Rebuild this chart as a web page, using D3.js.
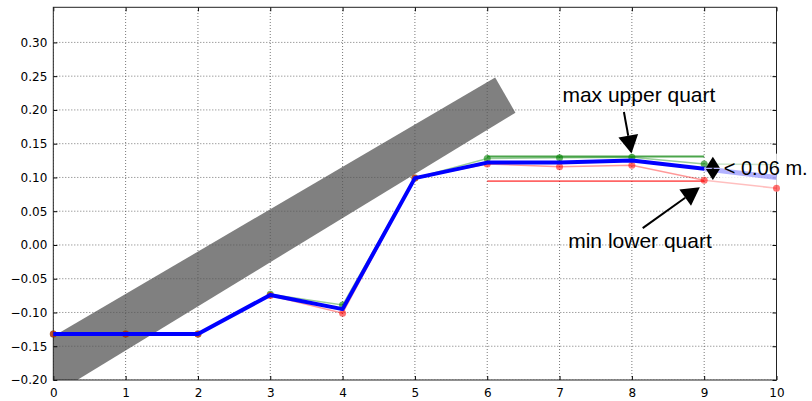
<!DOCTYPE html>
<html>
<head>
<meta charset="utf-8">
<script src="https://cdn.jsdelivr.net/npm/d3@7"></script>
<style>
  body { margin: 0; background: white; }
  text { font-family: "DejaVu Sans", sans-serif; }
</style>
</head>
<body>
<div id="chart"></div>
<script>
// data
var steps = [0, 1, 2, 3, 4, 5, 6, 7, 8, 9, 10];
var upperQuart = [-0.132, -0.132, -0.132, -0.073, -0.089, 0.099, 0.128, 0.129, 0.130, 0.120, 0.119];
var median = [-0.132, -0.132, -0.132, -0.074, -0.095, 0.099, 0.122, 0.122, 0.125, 0.113, 0.100];
var lowerQuart = [-0.132, -0.132, -0.132, -0.075, -0.101, 0.099, 0.120, 0.116, 0.118, 0.096, 0.084];

// max / min level lines over the last window
var maxUpper = { from: 6, to: 9, value: 0.131 };
var minLower = { from: 6, to: 9, value: 0.0945 };

// grey band corners (data units)
var band = [[-1, -0.198], [6.11, 0.248], [6.39, 0.196], [-1, -0.287]];

var xTicks = [0, 1, 2, 3, 4, 5, 6, 7, 8, 9, 10];
var yTicks = [-0.20, -0.15, -0.10, -0.05, 0.00, 0.05, 0.10, 0.15, 0.20, 0.25, 0.30];

// annotations: text pos, arrow tail, arrow tip
var notes = [
    { label: "max upper quart", tx: 7.04, ty: 0.212, ax: 7.89, ay: 0.197, px: 7.995, py: 0.1355 },
    { label: "min lower quart", tx: 7.12, ty: -0.0044, ax: 8.15, ay: 0.025, px: 8.94, py: 0.0855 }
];
var spread = { label: "< 0.06 m.", x: 9.12, y0: 0.0963, y1: 0.1308, tx: 9.27, ty: 0.1037 };

var width = 812
height = 401
var margin = { top: 7.3, right: 35.5, bottom: 21, left: 53.3 };

var svg = d3.select("#chart")
    .append("svg")
    .attr("width", width)
    .attr("height", height);

svg.append("rect").attr("width", width).attr("height", height).attr("fill", "white");

var x = d3.scaleLinear().domain([0, 10]).range([margin.left, width - margin.right]);
var y = d3.scaleLinear().domain([-0.2, 0.352]).range([height - margin.bottom, margin.top]);

svg.append("clipPath").attr("id", "plot")
    .append("rect")
    .attr("x", x(0)).attr("y", y(0.352))
    .attr("width", x(10) - x(0)).attr("height", y(-0.2) - y(0.352));

var plot = svg.append("g").attr("clip-path", "url(#plot)");

// grey band
plot.append("path")
    .datum(band)
    .attr("d", d3.line().x(d => x(d[0])).y(d => y(d[1])).curve(d3.curveLinearClosed))
    .attr("fill", "#808080");

// dotted grid
plot.selectAll(".gx").data(xTicks).enter().append("line")
    .attr("x1", d => x(d)).attr("x2", d => x(d))
    .attr("y1", y(-0.2)).attr("y2", y(0.352))
    .attr("stroke", "#555").attr("stroke-width", 0.8).attr("stroke-dasharray", "1,2");
plot.selectAll(".gy").data(yTicks).enter().append("line")
    .attr("x1", x(0)).attr("x2", x(10))
    .attr("y1", d => y(d)).attr("y2", d => y(d))
    .attr("stroke", "#555").attr("stroke-width", 0.8).attr("stroke-dasharray", "1,2");

// axes, ticks pointing in
var fmt = d3.format(".2f");
var axL = svg.append("g").attr("transform", "translate(" + x(0) + ",0)")
    .call(d3.axisLeft(y).tickValues(yTicks).tickSize(-4).tickPadding(6).tickFormat(fmt));
var axB = svg.append("g").attr("transform", "translate(0," + y(-0.2) + ")")
    .call(d3.axisBottom(x).tickValues(xTicks).tickSize(-4).tickPadding(8).tickFormat(d3.format("d")));
var axR = svg.append("g").attr("transform", "translate(" + x(10) + ",0)")
    .call(d3.axisRight(y).tickValues(yTicks).tickSize(-4).tickFormat(""));
var axT = svg.append("g").attr("transform", "translate(0," + y(0.352) + ")")
    .call(d3.axisTop(x).tickValues(xTicks).tickSize(-4).tickFormat(""));
[axL, axB, axR, axT].forEach(function (a) {
    a.select(".domain").remove();
    a.selectAll("text").style("font-size", "12px").style("font-family", "DejaVu Sans").attr("fill", "black");
});

// frame
svg.append("rect")
    .attr("x", x(0)).attr("y", y(0.352))
    .attr("width", x(10) - x(0)).attr("height", y(-0.2) - y(0.352))
    .attr("fill", "none").attr("stroke", "#222").attr("stroke-width", 1);

// white box behind the spread label
svg.append("rect")
    .attr("x", x(spread.tx) - 4).attr("y", y(spread.y1) - 3)
    .attr("width", width).attr("height", 38)
    .attr("fill", "white").attr("opacity", 0.8);

var line = d3.line().x(d => x(d[0])).y(d => y(d[1]));
var zip = function (a) { return steps.map((s, i) => [s, a[i]]); };

// quartile lines, faint
var lines = svg.append("g");
lines.append("path").datum(zip(upperQuart).slice(0, 10))
    .attr("d", line).attr("fill", "none").attr("stroke", "green").attr("stroke-width", 1.5).attr("opacity", 0.4);
lines.append("path").datum(zip(upperQuart).slice(9))
    .attr("d", line).attr("fill", "none").attr("stroke", "green").attr("stroke-width", 1.5).attr("opacity", 0.2);
lines.append("path").datum(zip(lowerQuart).slice(0, 10))
    .attr("d", line).attr("fill", "none").attr("stroke", "red").attr("stroke-width", 1.5).attr("opacity", 0.4);
lines.append("path").datum(zip(lowerQuart).slice(9))
    .attr("d", line).attr("fill", "none").attr("stroke", "red").attr("stroke-width", 1.5).attr("opacity", 0.25);

// level lines
lines.append("line")
    .attr("x1", x(maxUpper.from)).attr("x2", x(maxUpper.to))
    .attr("y1", y(maxUpper.value)).attr("y2", y(maxUpper.value))
    .attr("stroke", "green").attr("stroke-width", 2).attr("opacity", 0.7);
lines.append("line")
    .attr("x1", x(minLower.from)).attr("x2", x(minLower.to))
    .attr("y1", y(minLower.value)).attr("y2", y(minLower.value))
    .attr("stroke", "red").attr("stroke-width", 1.8).attr("opacity", 0.6);

// markers
lines.selectAll(".mu").data(zip(upperQuart).slice(0, 10)).enter().append("circle")
    .attr("cx", d => x(d[0])).attr("cy", d => y(d[1])).attr("r", 3.5)
    .attr("fill", "green").attr("opacity", 0.6);
lines.selectAll(".ml").data(zip(lowerQuart)).enter().append("circle")
    .attr("cx", d => x(d[0])).attr("cy", d => y(d[1])).attr("r", 3.5)
    .attr("fill", "red").attr("opacity", 0.55);

// median, thick blue
lines.append("path").datum(zip(median).slice(9))
    .attr("d", line).attr("fill", "none").attr("stroke", "blue").attr("stroke-width", 5).attr("opacity", 0.3);
lines.append("path").datum(zip(median).slice(0, 10))
    .attr("d", line).attr("fill", "none").attr("stroke", "blue").attr("stroke-width", 4)
    .attr("stroke-linejoin", "round");

// arrow with filled head
function arrow(g, x1, y1, x2, y2, len, half) {
    var dx = x2 - x1, dy = y2 - y1, L = Math.sqrt(dx * dx + dy * dy);
    var ux = dx / L, uy = dy / L;
    var bx = x2 - ux * len, by = y2 - uy * len;
    g.append("line").attr("x1", x1).attr("y1", y1).attr("x2", bx).attr("y2", by)
        .attr("stroke", "black").attr("stroke-width", 2);
    g.append("path")
        .attr("d", "M" + x2 + "," + y2 + "L" + (bx - uy * half) + "," + (by + ux * half) +
            "L" + (bx + uy * half) + "," + (by - ux * half) + "Z")
        .attr("fill", "black");
}

var ann = svg.append("g");
notes.forEach(function (n) {
    ann.append("text").attr("x", x(n.tx)).attr("y", y(n.ty))
        .text(n.label).style("font-size", "21px").style("font-family", "Liberation Sans").attr("fill", "black");
    arrow(ann, x(n.ax), y(n.ay), x(n.px), y(n.py), 18, 10);
});

// spread double arrow
var mid = (y(spread.y0) + y(spread.y1)) / 2;
arrow(ann, x(spread.x), mid, x(spread.x), y(spread.y1), 11, 7);
arrow(ann, x(spread.x), mid, x(spread.x), y(spread.y0), 11, 7);
ann.append("text").attr("x", x(spread.tx)).attr("y", y(spread.ty))
    .text(spread.label).style("font-size", "20px").style("font-family", "Liberation Sans").attr("fill", "black");
</script>
</body>
</html>
